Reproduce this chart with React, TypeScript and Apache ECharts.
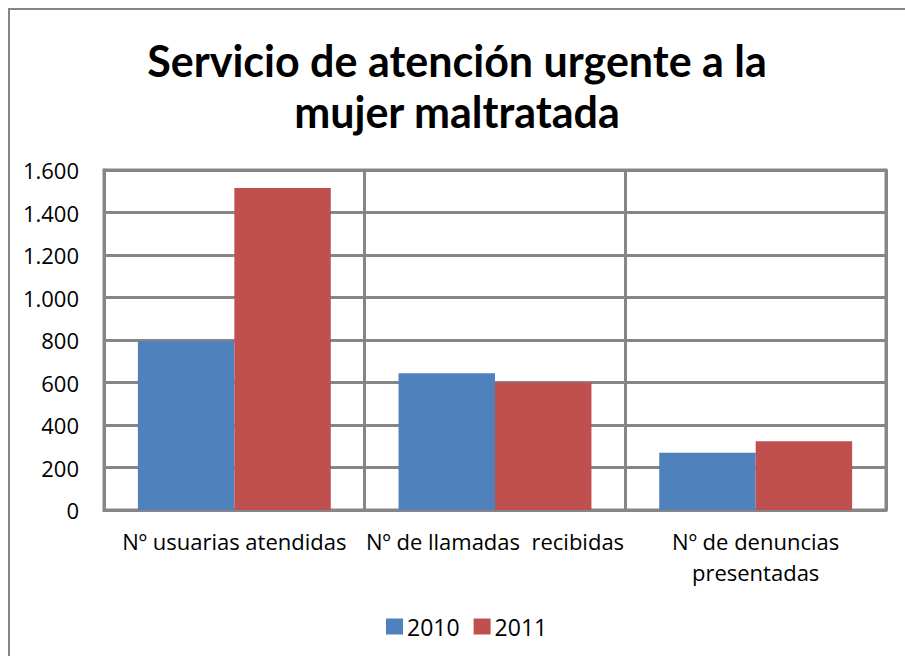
import React, { useEffect, useRef } from "react";
import * as echarts from "echarts";

const titleText = "Servicio de atención urgente a la\nmujer maltratada";
const categories = [
  "Nº usuarias atendidas",
  "Nº de llamadas  recibidas",
  "Nº de denuncias\npresentadas",
];
const seriesNames = ["2010", "2011"];
const values2010 = [795, 643, 270];
const values2011 = [1515, 600, 323];
const yMin = 0;
const yMax = 1600;
const yInterval = 200;

const TITLE_FONT = "Lato, 'Open Sans', sans-serif";
const FONT = "'Open Sans', Lato, sans-serif";
const GRID_COLOR = "#868686";

export default function App() {
  const ref = useRef<HTMLDivElement>(null);
  useEffect(() => {
    if (!ref.current) return;
    const chart = echarts.init(ref.current, undefined, { renderer: "svg" });
    chart.setOption({
      animation: false,
      backgroundColor: "#ffffff",
      textStyle: { fontFamily: FONT },
      graphic: [
        {
          type: "rect",
          silent: true,
          shape: { x: 1, y: 1, width: 2000, height: 2000 },
          style: { fill: "none", stroke: GRID_COLOR, lineWidth: 2 },
        },
        {
          type: "text",
          silent: true,
          x: 449,
          y: 27,
          style: {
            text: titleText,
            fontFamily: TITLE_FONT,
            fontSize: 43,
            fontWeight: "bold",
            fill: "#000000",
            lineHeight: 51,
            align: "center",
            verticalAlign: "top",
          },
        },
      ],
      legend: {
        data: seriesNames,
        left: 373,
        top: 602,
        itemWidth: 17,
        itemHeight: 16,
        itemGap: 14,
        icon: "rect",
        textStyle: { fontFamily: FONT, fontSize: 23, color: "#000000", padding: [0, 0, 0, -1] },
      },
      grid: {
        left: 96,
        right: 19,
        top: 162,
        bottom: 146,
        show: true,
        borderColor: GRID_COLOR,
        borderWidth: 3,
        containLabel: false,
      },
      xAxis: {
        type: "category",
        data: categories,
        axisLine: { show: true, lineStyle: { color: GRID_COLOR, width: 3 } },
        axisTick: { show: false },
        splitLine: { show: true, lineStyle: { color: GRID_COLOR, width: 3 } },
        axisLabel: {
          fontFamily: FONT,
          fontSize: 22,
          color: "#000000",
          margin: 15,
          lineHeight: 31,
          interval: 0,
        },
      },
      yAxis: {
        type: "value",
        min: yMin,
        max: yMax,
        interval: yInterval,
        axisLine: { show: true, lineStyle: { color: GRID_COLOR, width: 3 } },
        axisTick: { show: false },
        splitLine: { show: true, lineStyle: { color: GRID_COLOR, width: 3 } },
        axisLabel: {
          fontFamily: FONT,
          fontSize: 22,
          color: "#000000",
          margin: 25,
          formatter: (v: number) => v.toLocaleString("de-DE"),
        },
      },
      series: [
        {
          name: seriesNames[0],
          type: "bar",
          data: values2010,
          itemStyle: { color: "#4F81BD" },
          barGap: "0%",
          barCategoryGap: "26%",
        },
        {
          name: seriesNames[1],
          type: "bar",
          data: values2011,
          itemStyle: { color: "#C0504D" },
          barGap: "0%",
          barCategoryGap: "26%",
        },
      ],
    });
    return () => chart.dispose();
  }, []);
  return (
    <div
      ref={ref}
      style={{ position: "absolute", left: 8, top: 8, width: 897, height: 648 }}
    />
  );
}
